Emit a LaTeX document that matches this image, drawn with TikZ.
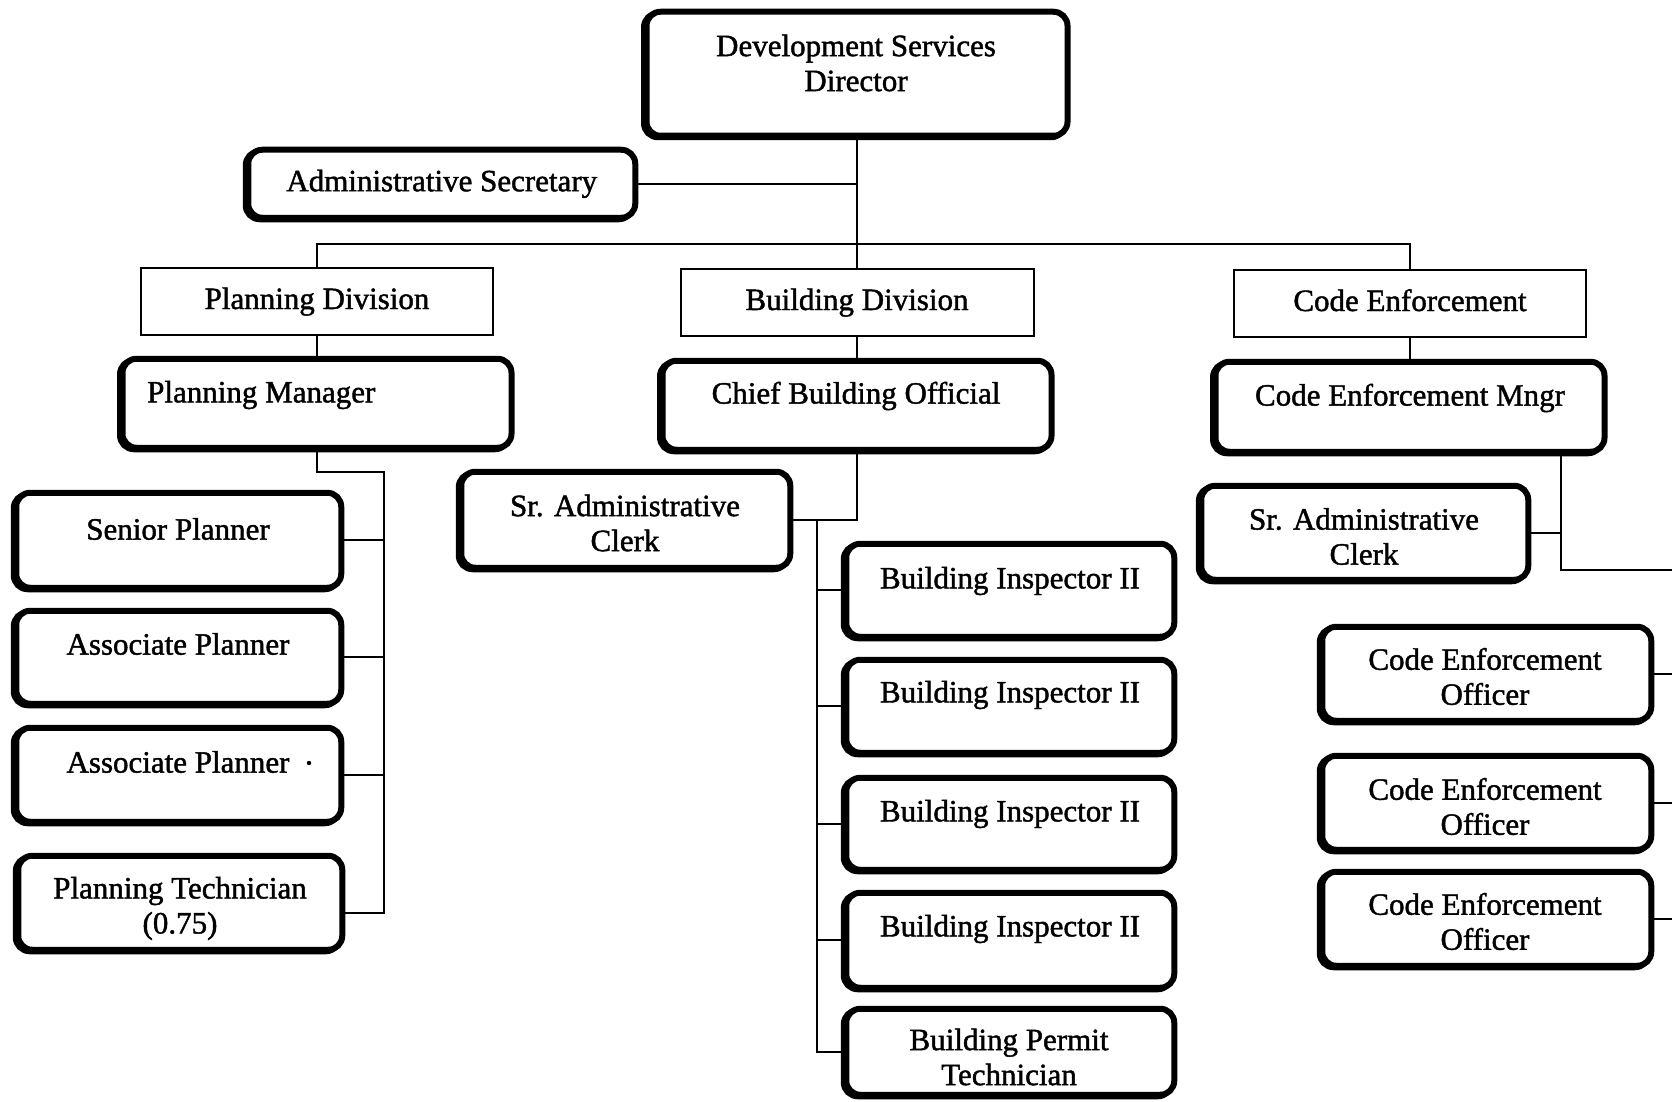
\documentclass[tikz,border=0pt]{standalone}
\usepackage{fontspec}
\setmainfont{Liberation Serif}[FakeBold=1.4]
\begin{document}
\begin{tikzpicture}[x=1pt,y=-1pt,
  every node/.style={font=\fontsize{31pt}{35pt}\selectfont},
  rbox/.style={draw, line width=6pt, fill=white, rounded corners=14pt, inner sep=0pt,
    preaction={fill=black, draw=black, line width=6pt,
      transform canvas={shift={(-2.5pt,-1.5pt)}}}},
  dbox/.style={draw, line width=2pt, fill=white, inner sep=0pt,
    text height=22pt, text depth=7pt},
  lbl/.style={inner sep=0pt, align=center},
  link/.style={draw, line width=2pt},
]
\fill[white] (0,0) rectangle (1672,1102);
\useasboundingbox (0,0) rectangle (1672,1102);

% director and secretary
\node[rbox, minimum width=421pt, minimum height=124pt] (dir) at (857,73.75) {};
\node[lbl] (dirT) at (856,63) {Development Services\\Director};
\node[rbox, minimum width=387pt, minimum height=68pt, text height=22pt, text depth=7pt]
  (as) at (441.75,183.75) {Administrative Secretary};

% divisions
\node[dbox, minimum width=352pt, minimum height=67pt] (pdiv) at (317,301.5) {Planning Division};
\node[dbox, minimum width=353pt, minimum height=67pt] (bdiv) at (857,302.5) {Building Division};
\node[dbox, minimum width=352pt, minimum height=67pt] (cdiv) at (1410,303.5) {Code Enforcement};

% managers
\node[rbox, minimum width=389pt, minimum height=89pt] (pm) at (317,403.25) {};
\node[lbl, anchor=west] (pmT) at (147,395) {Planning Manager};
\node[rbox, minimum width=389pt, minimum height=89pt] (cbo) at (857,405.25) {};
\node[lbl] (cboT) at (856,396) {Chief Building Official};
\node[rbox, minimum width=389pt, minimum height=90pt] (cem) at (1410,406.75) {};
\node[lbl] (cemT) at (1410,398) {Code Enforcement Mngr};

% planning staff
\node[rbox, minimum width=325pt, minimum height=95pt] (sp) at (178.75,540.25) {};
\node[lbl] (spT) at (178,529) {Senior Planner};
\node[rbox, minimum width=325pt, minimum height=93pt] (ap1) at (178.75,657.25) {};
\node[lbl] (ap1T) at (178,644) {Associate Planner};
\node[rbox, minimum width=325pt, minimum height=94pt] (ap2) at (178.75,774.75) {};
\node[lbl] (ap2T) at (178,762) {Associate Planner};
\fill (309,763) circle (2.2pt);
\node[rbox, minimum width=324pt, minimum height=94pt] (pt) at (180.25,902.75) {};
\node[lbl] (ptT) at (180,908.5) {Planning Technician\\(0.75)};

% building staff
\node[rbox, minimum width=329pt, minimum height=96pt] (sacb) at (625.75,519.75) {};
\node[lbl] (sacbT) at (625,523) {Sr. Administrative\\Clerk};
\node[rbox, minimum width=328pt, minimum height=93pt] (bi1) at (1010.25,590.25) {};
\node[lbl] (bi1T) at (1010,581) {Building Inspector II};
\node[rbox, minimum width=328pt, minimum height=93pt] (bi2) at (1010.25,706.25) {};
\node[lbl] (bi2T) at (1010,695) {Building Inspector II};
\node[rbox, minimum width=328pt, minimum height=92pt] (bi3) at (1010.25,823.75) {};
\node[lbl] (bi3T) at (1010,814) {Building Inspector II};
\node[rbox, minimum width=328pt, minimum height=95pt] (bi4) at (1010.25,940.25) {};
\node[lbl] (bi4T) at (1010,929) {Building Inspector II};
\node[rbox, minimum width=328pt, minimum height=86pt] (bpt) at (1010.25,1051.75) {};
\node[lbl] (bptT) at (1009,1057) {Building Permit\\Technician};

% code enforcement staff
\node[rbox, minimum width=327pt, minimum height=94pt] (sacc) at (1364.75,532.75) {};
\node[lbl] (saccT) at (1364,536.5) {Sr. Administrative\\Clerk};
\node[rbox, minimum width=329pt, minimum height=94pt] (ceo1) at (1486.75,673.75) {};
\node[lbl] (ceo1T) at (1485,676.5) {Code Enforcement\\Officer};
\node[rbox, minimum width=329pt, minimum height=94pt] (ceo2) at (1486.75,802.75) {};
\node[lbl] (ceo2T) at (1485,806.5) {Code Enforcement\\Officer};
\node[rbox, minimum width=329pt, minimum height=94pt] (ceo3) at (1486.75,918.75) {};
\node[lbl] (ceo3T) at (1485,921.5) {Code Enforcement\\Officer};

% reporting lines at the top
\coordinate (busy) at (0,244);
\draw[link] (dir.south) -- (bdiv.north);
\draw[link] (as.east) -- (as.east -| dir.south);
\draw[link] (pdiv.north) |- (busy -| cdiv.north) -- (cdiv.north);
\draw[link] (pdiv.south) -- (pm.north);
\draw[link] (bdiv.south) -- (cbo.north);
\draw[link] (cdiv.south) -- (cem.north);

% planning branch
\coordinate (pjog) at (384,472);
\draw[link] (pm.south) |- (pjog) |- ([yshift=-10pt]pt.east);
\draw[link] (sp.east) -- (sp.east -| pjog);
\draw[link] (ap1.east) -- (ap1.east -| pjog);
\draw[link] (ap2.east) -- (ap2.east -| pjog);

% building branch
\coordinate (bbus) at (817,519.75);
\draw[link] (cbo.south) |- (sacb.east);
\draw[link] (bbus) |- (bpt.west);
\draw[link] (bi1.west) -- (bi1.west -| bbus);
\draw[link] (bi2.west) -- (bi2.west -| bbus);
\draw[link] (bi3.west) -- (bi3.west -| bbus);
\draw[link] (bi4.west) -- (bi4.west -| bbus);

% code enforcement branch
\coordinate (cjog) at (1561,570);
\coordinate (redge) at (1672,0);
\draw[link] (cem.south -| cjog) -- (cjog) -- (cjog -| redge);
\draw[link] (sacc.east) -- (sacc.east -| cjog);
\draw[link] (ceo1.east) -- (ceo1.east -| redge);
\draw[link] (ceo2.east) -- (ceo2.east -| redge);
\draw[link] (ceo3.east) -- (ceo3.east -| redge);
\end{tikzpicture}
\end{document}
